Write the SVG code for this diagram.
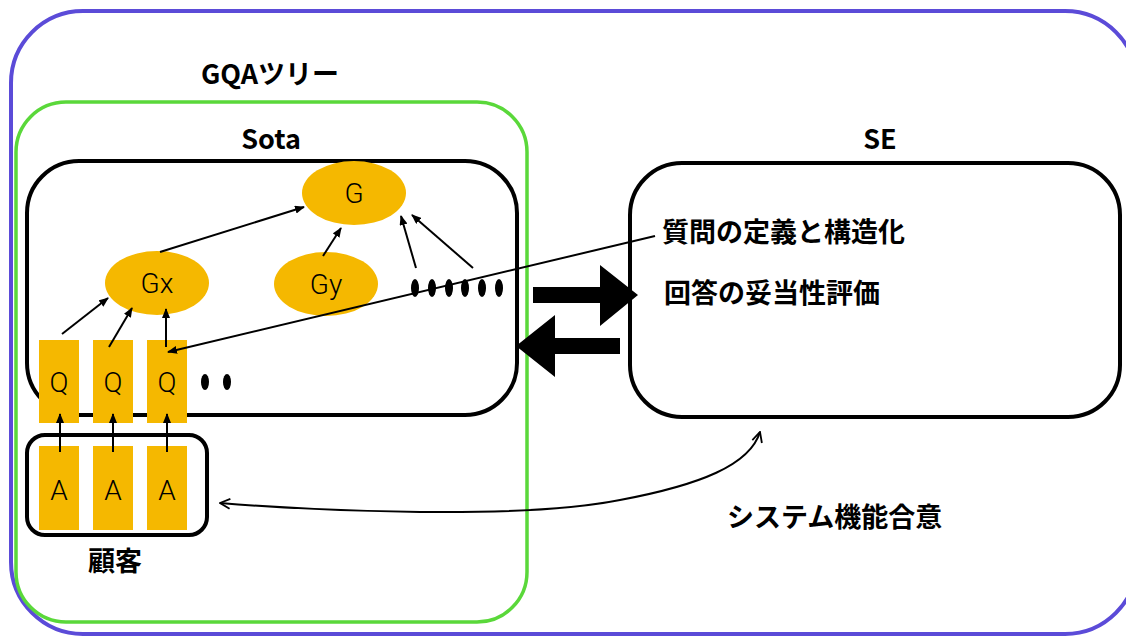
<svg xmlns="http://www.w3.org/2000/svg" width="1126" height="637" viewBox="0 0 1126 637">
<style>
.t{font-family:"Noto Sans CJK JP","Noto Sans",sans-serif;font-weight:700;font-size:27px;fill:#000}
.n{font-family:Roboto,"Liberation Sans",sans-serif;font-weight:300;font-size:28px;fill:#000;text-anchor:middle}
.box{fill:none;stroke:#000;stroke-width:4}
.y{fill:#f5b800}
.ln{stroke:#000;stroke-width:2;fill:none}
.dot{fill:#000}
</style>
<defs>
<marker id="ah" markerWidth="10" markerHeight="8" refX="9" refY="4" orient="auto" markerUnits="userSpaceOnUse"><path d="M0,0 L10,4 L0,8 Z" fill="#000"/></marker>
<marker id="oh" markerWidth="12" markerHeight="12" refX="11" refY="6" orient="auto-start-reverse" markerUnits="userSpaceOnUse"><path d="M1,1 L11,6 L1,11" fill="none" stroke="#000" stroke-width="1.8"/></marker>
</defs>
<rect x="11" y="11" width="1126" height="623" rx="72" fill="none" stroke="#5b4bd8" stroke-width="4"/>
<text class="t" x="270" y="84" text-anchor="middle">GQAツリー</text>
<g id="sota-group">
<rect x="16" y="102" width="511" height="520" rx="50" fill="none" stroke="#5ad83a" stroke-width="3.5"/>
<text class="t" x="271" y="149" text-anchor="middle">Sota</text>
</g>
<g id="sota">
<rect class="box" x="27" y="161" width="490" height="254" rx="52"/>
</g>
<g id="G"><ellipse class="y" cx="354" cy="193" rx="52" ry="32"/><text class="n" x="354" y="203">G</text></g>
<g id="Gx"><ellipse class="y" cx="157" cy="283" rx="52" ry="32"/><text class="n" x="157" y="293">Gx</text></g>
<g id="Gy"><ellipse class="y" cx="326" cy="284" rx="52" ry="32"/><text class="n" x="326" y="294">Gy</text></g>
<g id="dots">
<ellipse class="dot" cx="415" cy="288" rx="4" ry="9"/><ellipse class="dot" cx="432" cy="288" rx="4" ry="9"/><ellipse class="dot" cx="449" cy="288" rx="4" ry="9"/><ellipse class="dot" cx="465" cy="288" rx="4" ry="9"/><ellipse class="dot" cx="482" cy="288" rx="4" ry="9"/><ellipse class="dot" cx="499" cy="288" rx="4" ry="9"/>
<ellipse class="dot" cx="205" cy="382" rx="4" ry="8"/><ellipse class="dot" cx="227" cy="382" rx="4" ry="8"/>
</g>
<g id="Q1"><rect class="y" x="39" y="340" width="40" height="83"/><text class="n" x="59" y="392">Q</text></g>
<g id="Q2"><rect class="y" x="93" y="340" width="40" height="83"/><text class="n" x="113" y="392">Q</text></g>
<g id="Q3"><rect class="y" x="147" y="340" width="40" height="83"/><text class="n" x="167" y="392">Q</text></g>
<g id="customer">
<rect class="box" x="27" y="435" width="180" height="100" rx="18"/>
<text class="t" x="115" y="571" text-anchor="middle">顧客</text>
</g>
<g id="A1"><rect class="y" x="39" y="446" width="40" height="84"/><text class="n" x="59" y="500">A</text></g>
<g id="A2"><rect class="y" x="93" y="446" width="40" height="84"/><text class="n" x="113" y="500">A</text></g>
<g id="A3"><rect class="y" x="147" y="446" width="40" height="84"/><text class="n" x="167" y="500">A</text></g>
<g id="SE">
<text class="t" x="880" y="149" text-anchor="middle">SE</text>
<rect class="box" x="630" y="163" width="490" height="254" rx="52"/>
<text class="t" x="662" y="242">質問の定義と構造化</text>
<text class="t" x="664" y="303">回答の妥当性評価</text>
</g>
<text class="t" x="727" y="527">システム機能合意</text>
<g id="connectors">
<line class="ln" x1="160" y1="252" x2="304" y2="207" marker-end="url(#ah)"/>
<line class="ln" x1="323" y1="256" x2="341" y2="228" marker-end="url(#ah)"/>
<line class="ln" x1="416" y1="268" x2="401" y2="216" marker-end="url(#ah)"/>
<line class="ln" x1="473" y1="268" x2="412" y2="215" marker-end="url(#ah)"/>
<line class="ln" x1="62" y1="334" x2="108" y2="298" marker-end="url(#ah)"/>
<line class="ln" x1="109" y1="347" x2="132" y2="308" marker-end="url(#ah)"/>
<line class="ln" x1="166" y1="347" x2="166" y2="309" marker-end="url(#ah)"/>
<line class="ln" x1="60" y1="452" x2="60" y2="414" marker-end="url(#ah)"/>
<line class="ln" x1="113" y1="452" x2="113" y2="414" marker-end="url(#ah)"/>
<line class="ln" x1="167" y1="452" x2="167" y2="414" marker-end="url(#ah)"/>
<line class="ln" x1="655" y1="236" x2="168" y2="352" marker-end="url(#ah)"/>
<path class="ln" d="M220,503 C320,511 520,520 620,500 C700,485 750,465 760,432" marker-start="url(#oh)" marker-end="url(#oh)"/>
<path d="M533,287 H600 V265 L638,295 L600,326 V303 H533 Z" fill="#000"/>
<path d="M620,338 H555 V315 L516,346 L555,377 V354 H620 Z" fill="#000"/>
</g>
</svg>
